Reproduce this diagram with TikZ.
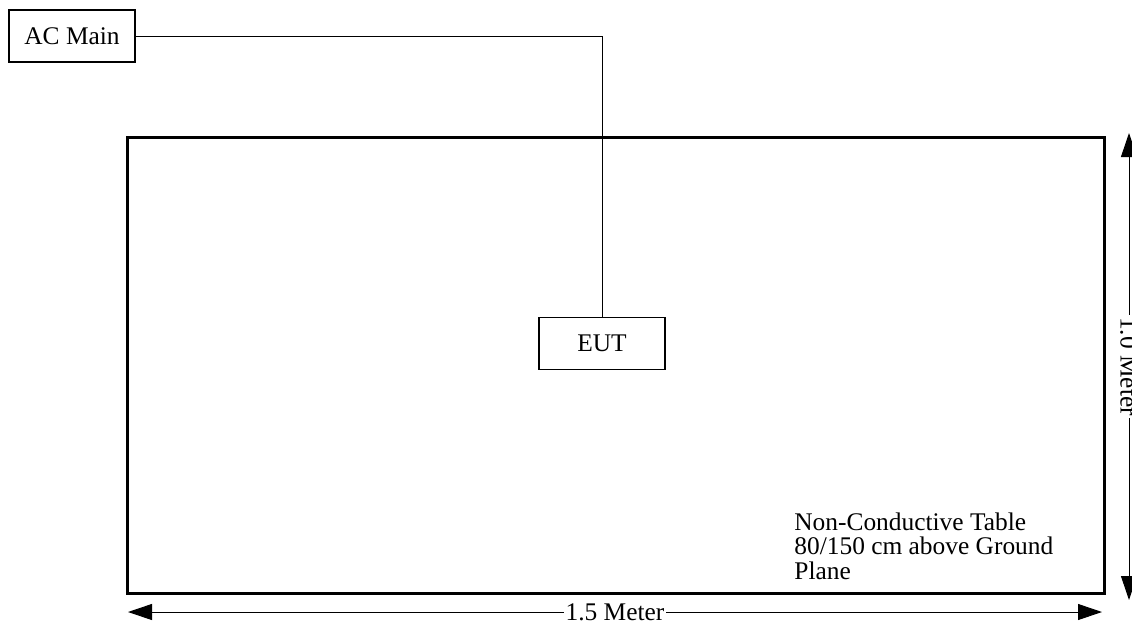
\documentclass[tikz,border=0pt]{standalone}
\usepackage{fontspec}
\setmainfont{Liberation Serif}
\usetikzlibrary{arrows.meta}
\begin{document}
\begin{tikzpicture}[x=0.5pt,y=-0.5pt,>={Triangle[length=12pt,width=8pt]},line join=miter,font=\fontsize{12.7}{12.25}\selectfont,
	box/.style={draw,line width=0.7pt,minimum width=63pt,minimum height=26pt,inner sep=0pt},
	dim/.style={<->,line width=0.5pt},
	dimlabel/.style={fill=white,inner sep=1pt}]
	\useasboundingbox (0,0) rectangle (1132,623);
	% table top and the plug
	\draw[line width=1.5pt] (127,137) rectangle (1104,593);
	\node[box] (acmain) at (72,36) {AC Main};
	\node[box] (eut) at (602,343.5) {EUT};
	\draw[line width=0.5pt] (acmain.east) -| (eut.north);
	\node[anchor=base west,align=left,inner sep=0pt] (tablenote) at (794,579) {Non-Conductive Table\\80/150 cm above Ground\\Plane};
	% dimensions
	\coordinate (wl) at (128,612); \coordinate (wr) at (1102,612);
	\coordinate (ht) at (1129,133); \coordinate (hb) at (1129,600);
	\draw[dim] (wl) -- (wr) node[midway,dimlabel] (width) {1.5 Meter};
	\draw[dim] (ht) -- (hb) node[midway,dimlabel,rotate=-90] (height) {1.0 Meter};
\end{tikzpicture}
\end{document}
